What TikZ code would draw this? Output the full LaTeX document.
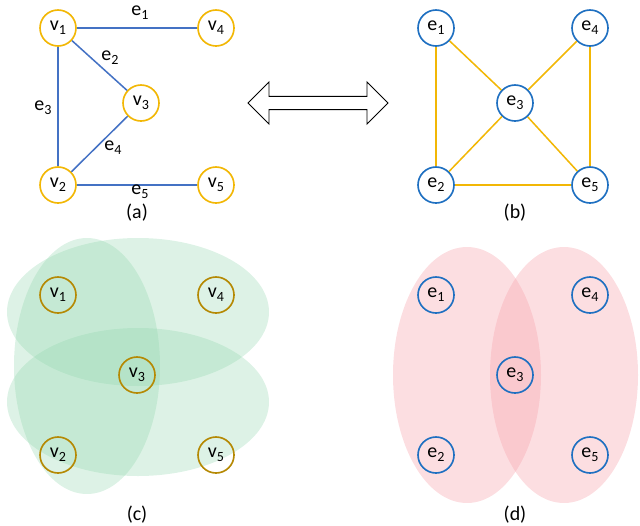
\documentclass[tikz,border=0pt]{standalone}
\usepackage{fontspec}
\setmainfont{Carlito}
\usetikzlibrary{shapes.arrows}
\newcommand{\lab}[2]{#1\raisebox{-0.4ex}{\fontsize{12}{14}\selectfont #2}}
\definecolor{yel}{HTML}{F2B705}
\definecolor{blu}{HTML}{1F70C1}
\definecolor{grn}{HTML}{8ED5AB}
\definecolor{pnk}{HTML}{F7A1AA}
\definecolor{edg}{HTML}{4472C4}
\begin{document}
\begin{tikzpicture}[x=0.03cm,y=-0.03cm,
  bigf/.style={font=\fontsize{17}{19}\selectfont},
  yv/.style={circle,draw=yel,line width=1.4pt,fill=white,minimum size=0.03cm*36,inner sep=0pt,bigf},
  cv/.style={circle,draw=yel!75!black,line width=1.4pt,minimum size=0.03cm*36,inner sep=0pt,bigf},
  bv/.style={circle,draw=blu,line width=1.4pt,fill=white,minimum size=0.03cm*36,inner sep=0pt,bigf},
  db/.style={circle,draw=blu,line width=1.4pt,minimum size=0.03cm*36,inner sep=0pt,bigf},
  be/.style={edg,line width=1.3pt},
  ye/.style={yel,line width=1.3pt},
  lb/.style={bigf}]
\useasboundingbox (0,0) rectangle (640,525);
% (a)
\node[yv] (a1) at (58,28) {\lab{v}{1}};
\node[yv] (a4) at (216,28) {\lab{v}{4}};
\node[yv] (a3) at (141,103) {\lab{v}{3}};
\node[yv] (a2) at (58,185) {\lab{v}{2}};
\node[yv] (a5) at (216,185) {\lab{v}{5}};
\draw[be] (a1)--(a4); \draw[be] (a1)--(a3); \draw[be] (a1)--(a2); \draw[be] (a2)--(a3); \draw[be] (a2)--(a5);
\node[lb] (l1) at (140,13) {\lab{e}{1}};
\node[lb] (l2) at (110,58) {\lab{e}{2}};
\node[lb] (l3) at (43,108) {\lab{e}{3}};
\node[lb] (l4) at (113,148) {\lab{e}{4}};
\node[lb] (l5) at (140,192) {\lab{e}{5}};
\node[lb] (ca) at (137,213) {(a)};
% arrow
\node[double arrow,draw=black,fill=white,line width=0.8pt,minimum width=0.03cm*42,double arrow head extend=0.03cm*1,minimum height=0.03cm*140,inner sep=0pt] (arr) at (318,103) {};
% (b)
\node[bv] (b1) at (436,28) {\lab{e}{1}};
\node[bv] (b4) at (590,28) {\lab{e}{4}};
\node[bv] (b3) at (515,103) {\lab{e}{3}};
\node[bv] (b2) at (436,185) {\lab{e}{2}};
\node[bv] (b5) at (590,185) {\lab{e}{5}};
\draw[ye] (b1)--(b2); \draw[ye] (b1)--(b3); \draw[ye] (b4)--(b3); \draw[ye] (b4)--(b5);
\draw[ye] (b3)--(b2); \draw[ye] (b3)--(b5); \draw[ye] (b2)--(b5);
\node[lb] (cb) at (515,213) {(b)};
% (c)
\fill[grn,opacity=0.3] (138,312) ellipse [x radius=131, y radius=74];
\fill[grn,opacity=0.3] (138,402) ellipse [x radius=131, y radius=74];
\fill[grn,opacity=0.3] (87,366) ellipse [x radius=73, y radius=128];
\node[cv] (c1) at (58,295) {\lab{v}{1}};
\node[cv] (c4) at (216,295) {\lab{v}{4}};
\node[cv] (c3) at (137,375) {\lab{v}{3}};
\node[cv] (c2) at (58,455) {\lab{v}{2}};
\node[cv] (c5) at (216,455) {\lab{v}{5}};
\node[lb] (cc) at (137,515) {(c)};
% (d)
\fill[pnk,opacity=0.35] (467,375) ellipse [x radius=74, y radius=128];
\fill[pnk,opacity=0.35] (564,375) ellipse [x radius=74, y radius=128];
\node[db] (d1) at (436,295) {\lab{e}{1}};
\node[db] (d4) at (590,295) {\lab{e}{4}};
\node[db] (d3) at (515,375) {\lab{e}{3}};
\node[db] (d2) at (436,455) {\lab{e}{2}};
\node[db] (d5) at (590,455) {\lab{e}{5}};
\node[lb] (cd) at (515,515) {(d)};
\end{tikzpicture}
\end{document}
